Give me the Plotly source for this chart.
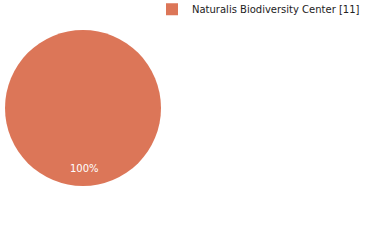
import plotly.graph_objects as go

labels = ["Naturalis Biodiversity Center [11]"]
values = [11]
colors = ["#DC7658"]

total = sum(values)
pct_text = f"{values[0] / total:.0%}"

fig = go.Figure(go.Pie(
    labels=labels, values=values,
    marker=dict(colors=colors, line=dict(width=0)),
    textinfo="none",
    sort=False, direction="clockwise",
    domain=dict(x=[5/380, 161/380], y=[54/240, 210/240]),
))
fig.add_annotation(
    x=84/380, y=(240-168)/240, xref="paper", yref="paper",
    xanchor="center", yanchor="middle",
    text=pct_text, showarrow=False,
    font=dict(color="white", size=10, family="DejaVu Sans"),
)
fig.update_layout(
    width=380, height=240,
    margin=dict(l=0, r=0, t=0, b=0, autoexpand=False),
    paper_bgcolor="white", plot_bgcolor="white",
    font=dict(family="DejaVu Sans", size=10, color="#222"),
    legend=dict(x=152/380, xanchor="left", y=1.022, yanchor="top",
                font=dict(size=10, family="DejaVu Sans", color="#222")),
    showlegend=True,
)
fig.write_html("out.html")
